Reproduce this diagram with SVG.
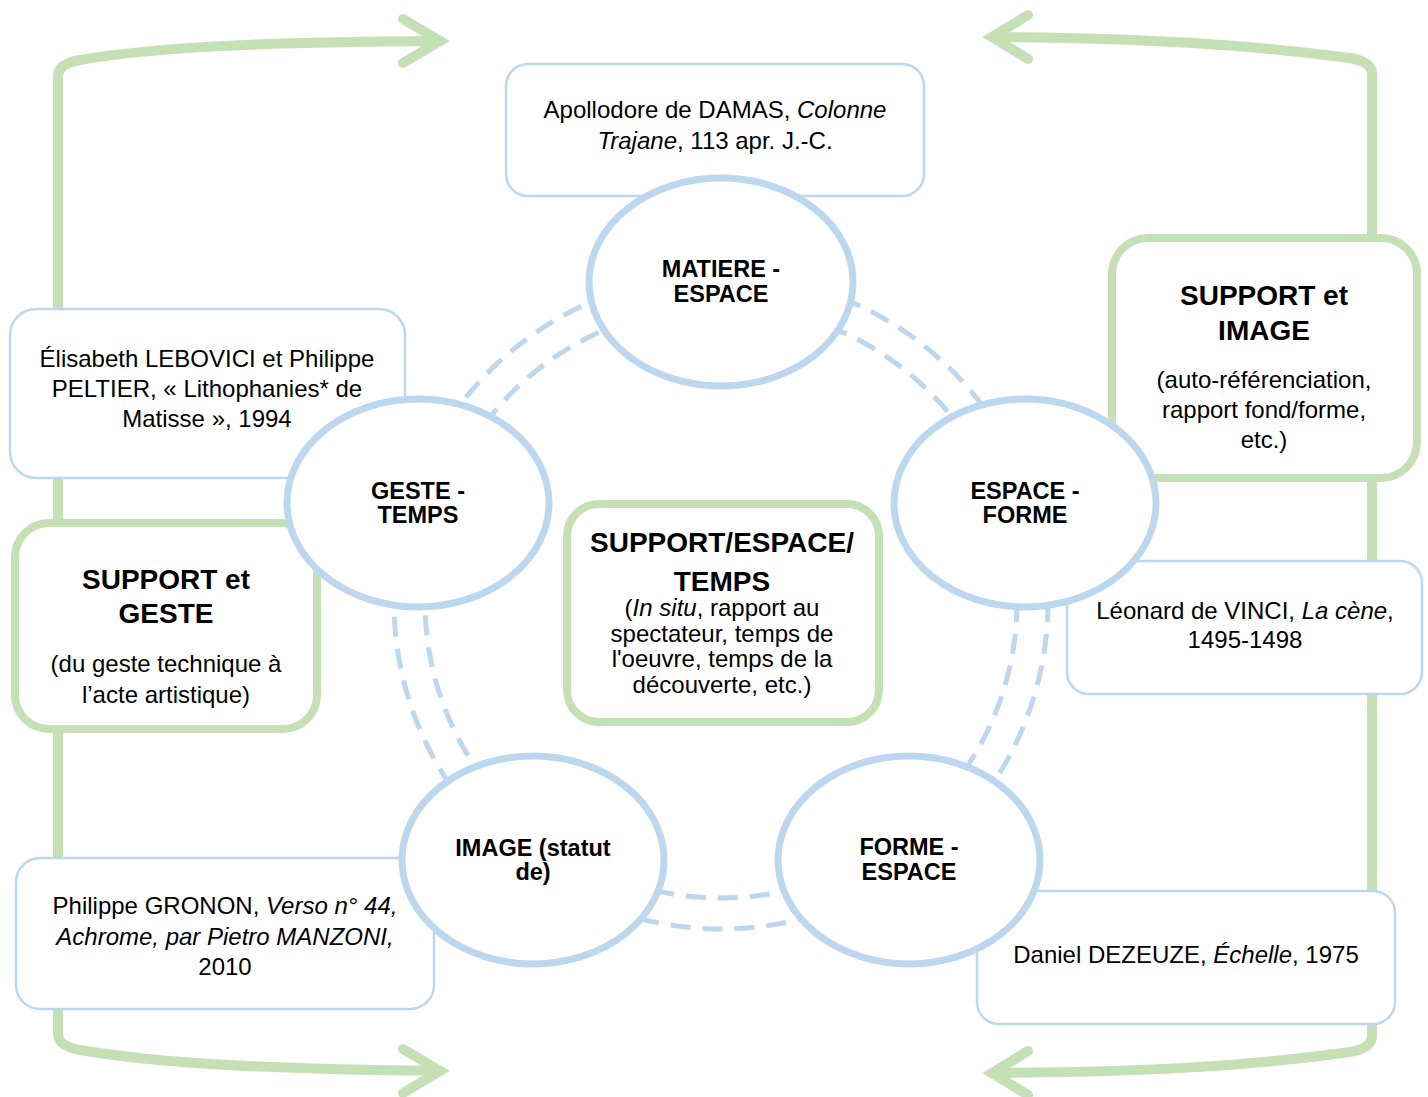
<svg xmlns="http://www.w3.org/2000/svg" width="1428" height="1097" viewBox="0 0 1428 1097">
<style>
.frame{fill:none;stroke:#C5E0B4;stroke-width:10;stroke-linecap:round;stroke-linejoin:round}
.head{fill:none;stroke:#C5E0B4;stroke-width:10;stroke-linecap:round;stroke-linejoin:miter;stroke-miterlimit:10}
.dash{fill:none;stroke:#BDD7EE;stroke-width:5;stroke-dasharray:20 12}
.cite{fill:#fff;stroke:#BDD7EE;stroke-width:2.5}
.gbox{fill:#fff;stroke:#C5E0B4;stroke-width:8}
.node{fill:#fff;stroke:#BDD7EE;stroke-width:7}
text{font-family:"Liberation Sans",Arial,sans-serif;fill:#000;text-anchor:middle}
.t{font-size:24px}
.lab{font-size:23.5px;font-weight:bold}
.big{font-size:28px;font-weight:bold}
.i{font-style:italic}
</style>
<rect width="1428" height="1097" fill="#fff"/>
<g id="connectors">
<path class="frame" d="M440,41 C250,42 150,48 80,60 Q58,64 58,76 L58,1034 Q58,1046 80,1050 C150,1062 250,1069 440,1071"/>
<path class="head" d="M403,19 L440,41 L403,63"/>
<path class="head" d="M403,1049 L440,1071 L403,1093"/>
<path class="frame" d="M992,37 C1150,38 1250,45 1350,58 Q1372,62 1372,74 L1372,1036 Q1372,1048 1350,1052 C1250,1066 1150,1072 992,1073"/>
<path class="head" d="M1028,15 L992,37 L1028,59"/>
<path class="head" d="M1028,1051 L992,1073 L1028,1095"/>
<circle class="dash" cx="721" cy="602" r="296"/>
<circle class="dash" cx="721" cy="602" r="327"/>
</g>
<g id="cite-apollodore">
<rect class="cite" x="506" y="64" width="418" height="132" rx="22"/>
<text class="t" x="715" y="118">Apollodore de DAMAS, <tspan class="i">Colonne</tspan></text>
<text class="t" x="715" y="149"><tspan class="i">Trajane</tspan>, 113 apr. J.-C.</text>
</g>
<g id="cite-lebovici">
<rect class="cite" x="10" y="309" width="395" height="169" rx="26"/>
<text class="t" x="207" y="367">Élisabeth LEBOVICI et Philippe</text>
<text class="t" x="207" y="397">PELTIER, « Lithophanies* de</text>
<text class="t" x="207" y="427">Matisse », 1994</text>
</g>
<g id="support-geste">
<rect class="gbox" x="15" y="523" width="302" height="206" rx="34"/>
<text class="big" x="166" y="589">SUPPORT et</text>
<text class="big" x="166" y="623">GESTE</text>
<text class="t" x="166" y="672">(du geste technique à</text>
<text class="t" x="166" y="703">l’acte artistique)</text>
</g>
<g id="support-image">
<rect class="gbox" x="1112" y="238" width="305" height="240" rx="36"/>
<text class="big" x="1264" y="305">SUPPORT et</text>
<text class="big" x="1264" y="340">IMAGE</text>
<text class="t" x="1264" y="388">(auto-référenciation,</text>
<text class="t" x="1264" y="418">rapport fond/forme,</text>
<text class="t" x="1264" y="448">etc.)</text>
</g>
<g id="cite-vinci">
<rect class="cite" x="1067" y="561" width="355" height="133" rx="22"/>
<text class="t" x="1245" y="619">Léonard de VINCI, <tspan class="i">La cène</tspan>,</text>
<text class="t" x="1245" y="648">1495-1498</text>
</g>
<g id="cite-gronon">
<rect class="cite" x="16" y="858" width="418" height="151" rx="24"/>
<text class="t" x="225" y="914">Philippe GRONON, <tspan class="i">Verso n° 44,</tspan></text>
<text class="t i" x="225" y="945">Achrome, par Pietro MANZONI,</text>
<text class="t" x="225" y="975">2010</text>
</g>
<g id="cite-dezeuze">
<rect class="cite" x="977" y="891" width="418" height="133" rx="22"/>
<text class="t" x="1186" y="963">Daniel DEZEUZE, <tspan class="i">Échelle</tspan>, 1975</text>
</g>
<g id="center">
<rect class="gbox" x="567" y="504" width="312" height="218" rx="32"/>
<text class="big" x="722" y="552">SUPPORT/ESPACE/</text>
<text class="big" x="722" y="591">TEMPS</text>
<text class="t" x="722" y="616">(<tspan class="i">In situ</tspan>, rapport au</text>
<text class="t" x="722" y="642">spectateur, temps de</text>
<text class="t" x="722" y="667">l'oeuvre, temps de la</text>
<text class="t" x="722" y="693">découverte, etc.)</text>
</g>
<g id="matiere-espace">
<ellipse class="node" cx="721" cy="282" rx="132" ry="104"/>
<text class="lab" x="721" y="277">MATIERE -</text>
<text class="lab" x="721" y="302">ESPACE</text>
</g>
<g id="geste-temps">
<ellipse class="node" cx="418" cy="503" rx="131" ry="104"/>
<text class="lab" x="418" y="499">GESTE -</text>
<text class="lab" x="418" y="523">TEMPS</text>
</g>
<g id="espace-forme">
<ellipse class="node" cx="1025" cy="503" rx="131" ry="104"/>
<text class="lab" x="1025" y="499">ESPACE -</text>
<text class="lab" x="1025" y="523">FORME</text>
</g>
<g id="image">
<ellipse class="node" cx="533" cy="860" rx="131" ry="104"/>
<text class="lab" x="533" y="856">IMAGE (statut</text>
<text class="lab" x="533" y="880">de)</text>
</g>
<g id="forme-espace">
<ellipse class="node" cx="909" cy="860" rx="131" ry="104"/>
<text class="lab" x="909" y="855">FORME -</text>
<text class="lab" x="909" y="880">ESPACE</text>
</g>
</svg>
